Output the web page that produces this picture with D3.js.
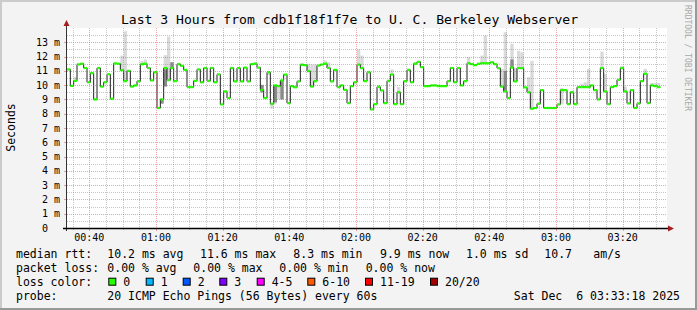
<!DOCTYPE html>
<html><head><meta charset="utf-8">
<script src="https://cdn.jsdelivr.net/npm/d3@7"></script>
<style>
html,body{margin:0;padding:0;background:#f3f3f3;}
svg{display:block;}
text{font-family:"DejaVu Sans Mono",monospace;white-space:pre;fill:#000;}
</style></head><body>
<svg id="c" width="697" height="310" xml:space="preserve"></svg>
<script>
// ---------------- data ----------------
const titleText = "Last 3 Hours from cdb1f18f1f7e to U. C. Berkeley Webserver";
const startTime = "2025-12-06T00:33:18Z";
const endTime   = "2025-12-06T03:33:18Z";
const firstStep = "2025-12-06T00:33:18Z";
const stepSeconds = 60;
// median rtt per step (ms)
const median = [
 11.1, 9.95, 10.3, 11.45, 11.5, 11.2, 10.2, 10.84, 9.0, 11.2, 9.9, 10.2, 10.76, 9.05, 11.52, 11.5, 11.05, 10.28, 11.0, 9.9, 9.98, 10.27, 11.46,
 11.5, 11.2, 10.33, 10.9, 8.4, 9.0, 11.2, 10.35, 11.2, 10.28, 11.47, 11.35, 11.07, 9.86, 9.86, 10.3, 11.1, 10.2, 11.2, 10.3, 11.2, 10.2, 10.75,
 8.65, 9.56, 9.1, 11.19, 10.26, 11.19, 10.26, 11.23, 10.26, 11.47, 11.5, 11.23, 9.67, 9.1, 10.9, 8.7, 9.98, 9.93, 10.33, 10.74, 8.74, 9.93,
 9.85, 10.26, 11.42, 11.4, 10.98, 9.9, 10.28, 11.37, 11.44, 11.5, 11.2, 10.26, 11.07, 9.86, 9.98, 9.67, 8.74, 9.93, 10.2, 11.44, 11.19, 10.28,
 10.9, 8.3, 8.67, 9.88, 9.63, 8.74, 10.3, 10.74, 8.67, 9.5, 8.67, 10.28, 11.07, 10.2, 11.5, 11.63, 11.26, 9.93, 9.93, 9.98, 9.98, 9.93, 9.93, 9.93, 10.28, 11.2, 10.2, 11.2, 9.98, 10.28,
 11.53, 11.47, 11.4, 11.5, 11.53, 11.53, 11.53, 11.6, 11.47, 11.19, 9.9, 9.56, 9.1, 11.23, 10.26, 11.19, 11.19, 9.84, 9.5, 8.35, 8.4, 8.7, 9.65, 8.4, 8.4, 8.4, 8.4, 8.65, 9.65, 9.65,
 8.67, 9.5, 8.67, 9.86, 9.86, 9.86, 9.86, 9.98, 9.65, 9.0, 11.19, 9.56, 8.67, 9.86, 9.93, 10.37, 11.19, 9.56, 8.72, 9.65, 8.4, 8.72, 10.28, 10.8, 8.74, 9.98, 9.93, 9.86
];
// smoke (ping spread): [step, low ms, high ms]
const smokeLight = [
 [2,10.3,10.56],[16,11.05,12.07],[17,10.28,13.77],[22,11.46,11.7],[23,11.5,11.8],
 [29,10.0,12.1],[30,10.35,13.4],[31,11.1,11.6],[33,11.47,11.55],[49,11.1,11.3],
 [56,11.5,11.62],[58,9.45,10.05],[60,10.7,10.9],[61,8.35,8.7],[62,8.7,10.0],[63,9.0,9.93],[64,9.0,10.33],
 [70,11.42,11.55],[72,10.98,11.5],[73,9.9,11.45],[74,10.28,11.45],[77,11.5,11.72],[78,11.2,11.6],
 [87,11.44,12.5],[88,11.19,12.07],[93,9.88,10.0],[97,10.74,11.1],[99,9.4,9.86],[104,11.5,11.63],
 [120,11.53,11.95],[124,11.53,12.07],[125,11.53,13.47],[130,9.9,11.14],[131,9.56,13.7],
 [133,11.23,12.9],[134,10.26,11.2],[135,11.19,12.4],[136,11.19,12.3],[138,9.5,10.56],[139,8.35,11.7],
 [148,8.7,9.8],[151,9.4,9.6],[154,9.86,10.1],[155,9.86,10.2],[156,9.86,11.14],[160,11.19,12.35],
 [161,9.56,10.8],[166,11.19,11.35],[167,9.56,9.9],[173,10.8,11.14],[175,9.98,10.15],[176,9.93,10.15],[177,9.86,10.15]
];
const smokeDark = [
 [28,8.7,9.0],[29,9.9,11.1],[31,11.2,11.6],[58,9.5,10.0],[62,8.8,10.0],[64,9.0,10.33],[131,9.6,11.0],[133,11.23,11.8]
];
const yMax = 14;
const yTickValues = [0,1,2,3,4,5,6,7,8,9,10,11,12,13];
const yTickLabels = ["0  ","1 m","2 m","3 m","4 m","5 m","6 m","7 m","8 m","9 m","10 m","11 m","12 m","13 m"];
const yAxisTitle = "Seconds";
const watermark = "RRDTOOL / TOBI OETIKER";
const rttLegend = ["median rtt:", "10.2 ms avg", "11.6 ms max", "8.3 ms min", "9.9 ms now", "1.0 ms sd", "10.7", "am/s"];
const lossLegend = ["packet loss:", "0.00 % avg", "0.00 % max", "0.00 % min", "0.00 % now"];
const lossColorTitle = "loss color:";
const lossColorLabels = ["0","1","2","3","4-5","6-10","11-19","20/20"];
const lossColors = ["#26ff00","#00b8ff","#0059ff","#7e00ff","#ff00ff","#ff5a00","#ff0000","#a10000"];
const probeLegend = ["probe:", "20 ICMP Echo Pings (56 Bytes) every 60s"];
const dateStamp = "Sat Dec  6 03:33:18 2025";

// ---------------- layout ----------------
const W = 697, H = 310;
const L = 67, R = 667, T = 28, B = 228;
const rttX = [16,107.3,200,293.3,380,466,544.3,593.3];
const lossX = [16,107.3,193.3,279.3,365.7];
const boxX = [108.3,145.7,182.7,219.3,256.7,307.3,365,430];
const rowY = [257.7,271.7,285.5,299.5];
const mgrid = "rgba(230,70,70,0.5)";
const grid = "rgba(130,130,130,0.45)";

const svg = d3.select("#c");
const parse = d3.isoParse;
const t0 = parse(startTime), t1 = parse(endTime), s0 = parse(firstStep);
const x = d3.scaleUtc().domain([t0, t1]).range([L, R]);
const y = d3.scaleLinear().domain([0, yMax]).range([B, T]);

// background + border
svg.append("rect").attr("width", W).attr("height", H).attr("fill", "#f3f3f3");
svg.append("rect").attr("x",0).attr("y",0).attr("width",W).attr("height",2).attr("fill","#cbcbcb");
svg.append("rect").attr("x",0).attr("y",0).attr("width",2).attr("height",H).attr("fill","#cbcbcb");
svg.append("rect").attr("x",0).attr("y",H-2).attr("width",W).attr("height",2).attr("fill","#999");
svg.append("rect").attr("x",W-2).attr("y",0).attr("width",2).attr("height",H).attr("fill","#999");

// canvas
svg.append("rect").attr("x", L).attr("y", T).attr("width", R - L).attr("height", B - T).attr("fill", "#fff");

svg.append("clipPath").attr("id","clip").append("rect")
  .attr("x", L).attr("y", T).attr("width", R - L).attr("height", B - T);
const plot = svg.append("g").attr("clip-path","url(#clip)");

const stepStart = i => new Date(s0.getTime() + i * stepSeconds * 1000);
const stepEnd = i => new Date(s0.getTime() + (i + 1) * stepSeconds * 1000);

// smoke
plot.selectAll("rect.sl").data(smokeLight).enter().append("rect")
  .attr("x", d => x(stepStart(d[0]))).attr("width", d => x(stepEnd(d[0])) - x(stepStart(d[0])))
  .attr("y", d => y(d[2])).attr("height", d => y(d[1]) - y(d[2])).attr("fill", "#dadada");
plot.selectAll("rect.sd").data(smokeDark).enter().append("rect")
  .attr("x", d => x(stepStart(d[0]))).attr("width", d => x(stepEnd(d[0])) - x(stepStart(d[0])))
  .attr("y", d => y(d[2])).attr("height", d => y(d[1]) - y(d[2])).attr("fill", "#8a8a8a");

// median black step line
const pts = median.map((v, i) => [stepStart(i), v]);
pts.push([stepEnd(median.length - 1), median[median.length - 1]]);
plot.append("path").datum(pts)
  .attr("d", d3.line().x(d => x(d[0])).y(d => y(d[1])).curve(d3.curveStepAfter))
  .attr("fill", "none").attr("stroke", "#202020").attr("stroke-width", 1);

// loss-colour band (0 loss everywhere)
plot.selectAll("rect.med").data(median).enter().append("rect")
  .attr("x", (d, i) => x(stepStart(i))).attr("width", (d, i) => x(stepEnd(i)) - x(stepStart(i)))
  .attr("y", d => y(d) - 1.1).attr("height", 2.2).attr("fill", lossColors[0]);

// grid
const minorX = d3.utcMinute.every(5).range(t0, t1).filter(t => t.getUTCMinutes() % 20 !== 0);
const majorX = d3.utcMinute.every(20).range(t0, t1);
const minorY = d3.range(0.5, yMax, 1);
const majorY = yTickValues.filter(v => v > 0);
const gg = svg.append("g").attr("shape-rendering","crispEdges");
gg.selectAll("line.mx").data(minorX).enter().append("line")
  .attr("x1", d => Math.round(x(d)) + 0.5).attr("x2", d => Math.round(x(d)) + 0.5)
  .attr("y1", T).attr("y2", B).attr("stroke", grid).attr("stroke-dasharray", "1,1");
gg.selectAll("line.my").data(minorY).enter().append("line")
  .attr("x1", L).attr("x2", R).attr("y1", d => Math.round(y(d)) + 0.5).attr("y2", d => Math.round(y(d)) + 0.5)
  .attr("stroke", grid).attr("stroke-dasharray", "1,1");
gg.selectAll("line.Mx").data(majorX).enter().append("line")
  .attr("x1", d => Math.round(x(d)) + 0.5).attr("x2", d => Math.round(x(d)) + 0.5)
  .attr("y1", T).attr("y2", B).attr("stroke", mgrid).attr("stroke-dasharray", "1,1");
gg.selectAll("line.My").data(majorY).enter().append("line")
  .attr("x1", L).attr("x2", R).attr("y1", d => Math.round(y(d)) + 0.5).attr("y2", d => Math.round(y(d)) + 0.5)
  .attr("stroke", mgrid).attr("stroke-dasharray", "1,1");
// ticks
gg.selectAll("line.tx").data(minorX).enter().append("line")
  .attr("x1", d => Math.round(x(d)) + 0.5).attr("x2", d => Math.round(x(d)) + 0.5)
  .attr("y1", B).attr("y2", B + 2).attr("stroke", grid);
gg.selectAll("line.tX").data(majorX).enter().append("line")
  .attr("x1", d => Math.round(x(d)) + 0.5).attr("x2", d => Math.round(x(d)) + 0.5)
  .attr("y1", B).attr("y2", B + 3).attr("stroke", mgrid);
gg.selectAll("line.ty").data(majorY).enter().append("line")
  .attr("x1", L - 3).attr("x2", L).attr("y1", d => Math.round(y(d)) + 0.5).attr("y2", d => Math.round(y(d)) + 0.5)
  .attr("stroke", mgrid);

// axes
svg.append("line").attr("x1", L - 0.5).attr("x2", L - 0.5).attr("y1", B + 3).attr("y2", T - 4)
  .attr("stroke", "#333").attr("stroke-width", 1);
svg.append("line").attr("x1", L - 4).attr("x2", R + 3).attr("y1", B + 0.5).attr("y2", B + 0.5)
  .attr("stroke", "#000").attr("stroke-width", 1.5);
svg.append("path").attr("d", `M${L-3.5},${T-2}L${L+2.5},${T-2}L${L-0.5},${T-8}Z`).attr("fill", "#a51c1c");
svg.append("path").attr("d", `M${R+1},${B-2.5}L${R+1},${B+3.5}L${R+7},${B+0.5}Z`).attr("fill", "#a51c1c");

// y labels
svg.selectAll("text.yl").data(yTickValues).enter().append("text")
  .attr("x", 60).attr("y", d => y(d)).attr("dy", "0.36em").attr("text-anchor", "end")
  .attr("font-size", 10).text((d, i) => yTickLabels[i]);
// x labels
const fmt = d3.utcFormat("%H:%M");
svg.selectAll("text.xl").data(majorX).enter().append("text")
  .attr("x", d => x(d)).attr("y", 241).attr("text-anchor", "middle")
  .attr("font-size", 10).text(d => fmt(d));

// title
svg.append("text").attr("x", 349.5).attr("y", 24).attr("text-anchor", "middle")
  .attr("font-size", 13.1).text(titleText);
// y axis title
svg.append("text").attr("transform", "translate(15,127.5) rotate(-90)").attr("text-anchor", "middle")
  .attr("font-size", 11.5).text(yAxisTitle);
// watermark
svg.append("text").attr("transform", "translate(685,58) rotate(90)").attr("text-anchor", "middle")
  .attr("font-size", 8).style("fill", "#a8a8a8").text(watermark);

// legend
const lg = svg.append("g").attr("font-size", 11.5);
rttLegend.forEach((s, i) => lg.append("text").attr("x", rttX[i]).attr("y", rowY[0]).text(s));
lossLegend.forEach((s, i) => lg.append("text").attr("x", lossX[i]).attr("y", rowY[1]).text(s));
lg.append("text").attr("x", 16).attr("y", rowY[2]).text(lossColorTitle);
lossColorLabels.forEach((s, i) => {
  lg.append("rect").attr("x", boxX[i] + 0.5).attr("y", 278.2).attr("width", 7).attr("height", 7)
    .attr("fill", lossColors[i]).attr("stroke", "#000").attr("stroke-width", 1);
  lg.append("text").attr("x", boxX[i] + 15).attr("y", rowY[2]).text(s);
});
lg.append("text").attr("x", 16).attr("y", rowY[3]).text(probeLegend[0]);
lg.append("text").attr("x", 107.3).attr("y", rowY[3]).text(probeLegend[1]);
lg.append("text").attr("x", 680).attr("y", rowY[3]).attr("text-anchor", "end").text(dateStamp);
</script>
</body></html>
